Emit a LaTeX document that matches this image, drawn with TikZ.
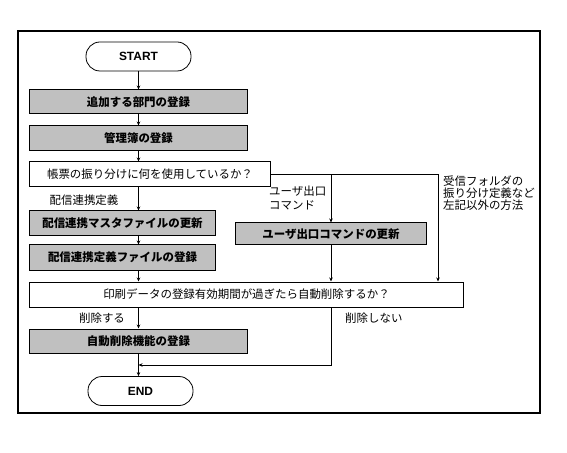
\documentclass[tikz,border=0pt]{standalone}
\usepackage{fontspec}
\setmainfont{Noto Sans CJK JP}
\newfontfamily\latinbold{Liberation Sans}
\usetikzlibrary{arrows.meta}
\definecolor{boxgray}{RGB}{192,192,192}
\tikzset{
  jp/.style={font=\fontsize{11.5}{12}\selectfont, inner sep=0pt},
  procbox/.style={draw, line width=1bp, fill=boxgray, minimum height=24bp, inner sep=0pt, font=\fontsize{11.5}{12}\selectfont\bfseries},
  qbox/.style={draw, line width=1bp, fill=white, minimum height=25bp, inner sep=0pt, font=\fontsize{11.5}{12}\selectfont},
  term/.style={draw, line width=0.8bp, rounded corners=14bp, minimum width=105bp, minimum height=29bp, inner sep=0pt, font=\latinbold\fontsize{12}{12}\selectfont\bfseries},
  conn/.style={line width=0.8bp},
  arr/.style={conn, -{Stealth[length=4bp,width=3.5bp]}}
}
\begin{document}
\begin{tikzpicture}[x=1bp,y=-1bp]
\useasboundingbox (0,0) rectangle (567,453);
\node[draw, line width=1.2bp, minimum width=522bp, minimum height=382bp, inner sep=0pt] (frame) at (279,222) {};
\node[term] (start) at (138.5,56.5) {START};
\node[procbox, minimum width=217bp] (b1) at (138.5,102) {追加する部門の登録};
\node[procbox, minimum width=217bp, minimum height=25bp] (b2) at (138.5,138.5) {管理簿の登録};
\node[qbox, minimum width=240bp] (q1) at (150,174.5) {帳票の振り分けに何を使用しているか？};
\node[procbox, minimum width=185bp, minimum height=25bp] (b3) at (122.5,223.5) {配信連携マスタファイルの更新};
\node[procbox, minimum width=185bp, minimum height=25bp] (b4) at (122.5,257.5) {配信連携定義ファイルの登録};
\node[procbox, minimum width=191bp, minimum height=22bp] (ub) at (331,234) {ユーザ出口コマンドの更新};
\node[qbox, minimum width=433bp] (q2) at (246.5,294.5) {印刷データの登録有効期間が過ぎたら自動削除するか？};
\node[procbox, minimum width=217bp] (b5) at (138.5,341) {自動削除機能の登録};
\node[term] (end) at (140.5,391) {END};
\node[jp] (l1) at (84,200) {配信連携定義};
\node[jp, anchor=north west, align=left, font=\fontsize{11.5}{14}\selectfont] (l2) at (269,186) {ユーザ出口\\コマンド};
\node[jp, anchor=north west, align=left, font=\fontsize{11.5}{12}\selectfont] (l3) at (443,176) {受信フォルダの\\振り分け定義など\\左記以外の方法};
\node[jp] (l4) at (102,318) {削除する};
\node[jp, anchor=west] (l5) at (345,318) {削除しない};
\coordinate (rc) at (438,174.5);
\coordinate (nd) at (331,365);
\draw[arr] (start.south) -- (start.south |- b1.north);
\draw[arr] (b1.south) -- (b1.south |- b2.north);
\draw[arr] (b2.south) -- (b2.south |- q1.north);
\draw[arr] (b2.south |- q1.south) -- (b2.south |- b3.north);
\draw[arr] (b2.south |- b3.south) -- (b2.south |- b4.north);
\draw[arr] (b2.south |- b4.south) -- (b2.south |- q2.north);
\draw[conn] (q1.east) -- (rc);
\draw[arr] (rc) -- (rc |- q2.north);
\draw[arr] (ub.north |- q1.east) -- (ub.north);
\draw[arr] (ub.south) -- (ub.south |- q2.north);
\draw[arr] (b2.south |- q2.south) -- (b2.south |- b5.north);
\draw[arr] (nd |- q2.south) -- (nd) -- (nd -| b5.south);
\draw[arr] (b5.south) -- (b5.south |- end.north);
\end{tikzpicture}
\end{document}
